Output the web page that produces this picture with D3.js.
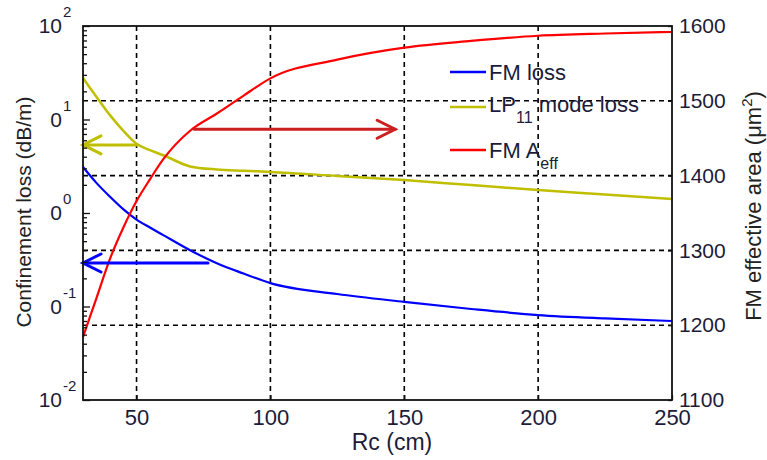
<!DOCTYPE html>
<html>
<head>
<meta charset="utf-8">
<script src="https://cdn.jsdelivr.net/npm/d3@7"></script>
<style>
	body { margin: 0; background: #fff; }
	text { font-family: "Liberation Sans", Arial, sans-serif; }
</style>
</head>
<body>
<div id="chart"></div>
<script>
// data
var rc = [30, 35, 40, 45, 50, 55, 60, 70, 80, 90, 100, 125, 150, 175, 200, 225, 250]
var fmLoss = [3.10, 2.1, 1.5, 1.1, 0.85, 0.70, 0.58, 0.40, 0.29, 0.225, 0.178, 0.136, 0.112, 0.094, 0.081, 0.0745, 0.070]
var lp11Loss = [27.8, 17.5, 11.2, 7.6, 5.5, 4.7, 4.15, 3.15, 2.92, 2.83, 2.75, 2.49, 2.25, 1.99, 1.76, 1.58, 1.41]
var fmAeff = [1184, 1236, 1288, 1330, 1366, 1395, 1422, 1460, 1483, 1507, 1530, 1555, 1571, 1580, 1587, 1590, 1592]

var xTicks = [50, 100, 150, 200, 250]
var leftTicks = [0.01, 0.1, 1, 10, 100]
var leftTickBase = ["10", "0", "0", "0", "10"]
var leftTickExp = ["-2", "-1", "0", "1", "2"]
var rightTicks = [1100, 1200, 1300, 1400, 1500, 1600]

// annotation arrows: from Rc, to Rc, value, axis
var arrowFrom = [50, 76.7, 71.6]
var arrowTo = [30, 30, 146.6]
var arrowValue = [5.35, 0.292, 1462]
var arrowAxis = ["left", "left", "right"]
var arrowColor = ["#bfbf00", "#0000ff", "#cc1f1f"]

var width = 767
var height = 460
var pLeft = 83, pRight = 672, pTop = 26, pBottom = 400
var textColor = "#1c1c38"

var svg = d3.select("#chart")
	.append("svg")
	.attr("width", width)
	.attr("height", height);

var x = d3.scaleLinear().domain([30, 250]).range([pLeft, pRight]);
var yL = d3.scaleLog().domain([0.01, 100]).range([pBottom, pTop]);
var yR = d3.scaleLinear().domain([1100, 1600]).range([pBottom, pTop]);

// grid
svg.append("g").selectAll("line")
	.data(xTicks.filter(function (d) { return d < 250; }))
	.enter().append("line")
	.attr("x1", function (d) { return x(d); })
	.attr("x2", function (d) { return x(d); })
	.attr("y1", pTop).attr("y2", pBottom)
	.attr("stroke", "#000").attr("stroke-width", 1.6)
	.attr("stroke-dasharray", "5,4");

svg.append("g").selectAll("line")
	.data(rightTicks.filter(function (d) { return d > 1100 && d < 1600; }))
	.enter().append("line")
	.attr("x1", pLeft).attr("x2", pRight)
	.attr("y1", function (d) { return yR(d); })
	.attr("y2", function (d) { return yR(d); })
	.attr("stroke", "#000").attr("stroke-width", 1.6)
	.attr("stroke-dasharray", "5,4");

// lines
var lineL = d3.line()
	.x(function (d) { return x(d[0]); })
	.y(function (d) { return yL(d[1]); })
	.curve(d3.curveMonotoneX);
var lineR = d3.line()
	.x(function (d) { return x(d[0]); })
	.y(function (d) { return yR(d[1]); })
	.curve(d3.curveMonotoneX);

svg.append("path")
	.datum(d3.zip(rc, lp11Loss))
	.attr("d", lineL)
	.attr("fill", "none").attr("stroke", "#bfbf00").attr("stroke-width", 2.5);

svg.append("path")
	.datum(d3.zip(rc, fmLoss))
	.attr("d", lineL)
	.attr("fill", "none").attr("stroke", "#0000ff").attr("stroke-width", 2.2);

svg.append("path")
	.datum(d3.zip(rc, fmAeff))
	.attr("d", lineR)
	.attr("fill", "none").attr("stroke", "#ff0000").attr("stroke-width", 2.2);

// arrows
arrowFrom.forEach(function (f, i) {
	var yy = arrowAxis[i] == "left" ? yL(arrowValue[i]) : yR(arrowValue[i]);
	var x0 = x(f), x1 = x(arrowTo[i]);
	var dir = x1 < x0 ? 1 : -1;
	var g = svg.append("g")
		.attr("stroke", arrowColor[i]).attr("stroke-width", 3)
		.attr("fill", "none").attr("stroke-linecap", "round");
	g.append("line").attr("x1", x0).attr("x2", x1).attr("y1", yy).attr("y2", yy);
	g.append("path")
		.attr("d", "M" + (x1 + dir * 18) + "," + (yy - 9) + "L" + x1 + "," + yy + "L" + (x1 + dir * 18) + "," + (yy + 9));
});

// frame
svg.append("rect")
	.attr("x", pLeft).attr("y", pTop)
	.attr("width", pRight - pLeft).attr("height", pBottom - pTop)
	.attr("fill", "none").attr("stroke", "#111").attr("stroke-width", 1.8);

// left axis, major + minor ticks inside
var minor = [];
[0.01, 0.1, 1, 10].forEach(function (d) {
	for (var k = 2; k < 10; k++) minor.push(d * k);
});

svg.append("g")
	.attr("transform", "translate(" + pLeft + ",0)")
	.call(d3.axisLeft(yL).tickValues(minor).tickSizeInner(-4).tickSizeOuter(0).tickFormat(""))
	.call(function (g) { g.select(".domain").remove(); })
	.selectAll("line").attr("stroke", "#111").attr("stroke-width", 1.3);

var la = svg.append("g")
	.attr("transform", "translate(" + pLeft + ",0)")
	.call(d3.axisLeft(yL).tickValues(leftTicks).tickSizeInner(-7).tickSizeOuter(0).tickFormat(""));
la.select(".domain").remove();
la.selectAll("line").attr("stroke", "#111").attr("stroke-width", 1.3);

leftTicks.forEach(function (d, i) {
	svg.append("text")
		.attr("x", 62).attr("y", yL(d)).attr("dy", "0.35em")
		.attr("text-anchor", "end")
		.attr("font-size", 21).attr("fill", textColor)
		.text(leftTickBase[i]);
	svg.append("text")
		.attr("x", 63).attr("y", yL(d) - 9)
		.attr("font-size", 15).attr("fill", textColor)
		.text(leftTickExp[i]);
});

// bottom axis
var ba = svg.append("g")
	.attr("transform", "translate(0," + pBottom + ")")
	.call(d3.axisBottom(x).tickValues(xTicks).tickSizeInner(-5).tickSizeOuter(0).tickPadding(9));
ba.select(".domain").remove();
ba.selectAll("line").attr("stroke", "#111").attr("stroke-width", 1.3);
ba.selectAll("text")
	.attr("font-size", 22).attr("fill", textColor)
	.style("font-family", "'Liberation Sans', Arial, sans-serif");

// right axis
var ra = svg.append("g")
	.attr("transform", "translate(" + pRight + ",0)")
	.call(d3.axisRight(yR).tickValues(rightTicks).tickFormat(d3.format("d"))
		.tickSizeInner(-4).tickSizeOuter(0).tickPadding(7));
ra.select(".domain").remove();
ra.selectAll("line").attr("stroke", "#111").attr("stroke-width", 1.3);
ra.selectAll("text")
	.attr("font-size", 21).attr("fill", textColor)
	.style("font-family", "'Liberation Sans', Arial, sans-serif");

// axis titles
svg.append("text")
	.attr("transform", "translate(31,212) rotate(-90)")
	.attr("text-anchor", "middle")
	.attr("font-size", 21).attr("fill", "#222")
	.text("Confinement loss (dB/m)");

svg.append("text")
	.attr("x", 392).attr("y", 450)
	.attr("text-anchor", "middle")
	.attr("font-size", 23).attr("fill", textColor)
	.text("Rc (cm)");

var rt = svg.append("text")
	.attr("transform", "translate(761,206) rotate(-90)")
	.attr("text-anchor", "middle")
	.attr("font-size", 22).attr("fill", "#222");
rt.append("tspan").text("FM effective area (\u03bcm");
rt.append("tspan").attr("font-size", 15).attr("dy", -9).text("2");
rt.append("tspan").attr("dy", 9).text(")");

// legend
var legY = [72, 107, 150]
var legColor = ["#0000ff", "#bfbf00", "#ff0000"]
var leg = svg.append("g");
legY.forEach(function (yy, i) {
	leg.append("line")
		.attr("x1", 450).attr("x2", 486).attr("y1", yy).attr("y2", yy)
		.attr("stroke", legColor[i]).attr("stroke-width", 2.5);
});
leg.append("text").attr("x", 489).attr("y", legY[0]).attr("dy", "0.35em")
	.attr("font-size", 22).attr("fill", textColor).text("FM loss");
var t2 = leg.append("text").attr("x", 489).attr("y", legY[1] - 3).attr("dy", "0.35em")
	.attr("font-size", 22).attr("fill", textColor);
t2.append("tspan").text("LP");
t2.append("tspan").attr("font-size", 16).attr("dy", 11).text("11");
t2.append("tspan").attr("dy", -11).text(" mode loss");
var t3 = leg.append("text").attr("x", 489).attr("y", legY[2]).attr("dy", "0.35em")
	.attr("font-size", 22).attr("fill", textColor);
t3.append("tspan").text("FM A");
t3.append("tspan").attr("font-size", 16).attr("dy", 11).text("eff");
</script>
</body>
</html>
